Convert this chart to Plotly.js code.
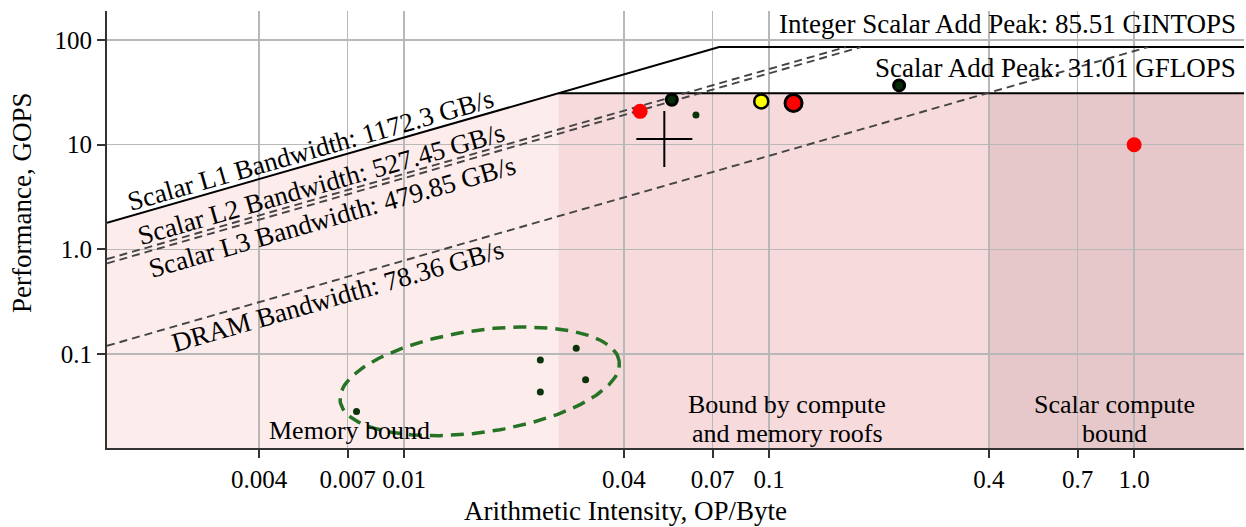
<!DOCTYPE html>
<html><head><meta charset="utf-8">
<script src="https://cdn.plot.ly/plotly-3.0.1.min.js"></script>
<style>html,body{margin:0;padding:0;background:#fff}#chart{width:1246px;height:527px}</style>
</head><body><div id="chart"></div>
<script>
// ---- data ----
const xTickVals = [0.004, 0.007, 0.01, 0.04, 0.07, 0.1, 0.4, 0.7, 1.0];
const xTickText = ['0.004', '0.007', '0.01', '0.04', '0.07', '0.1', '0.4', '0.7', '1.0'];
const yTickVals = [0.1, 1, 10, 100];
const yTickText = ['0.1', '1.0', '10', '100'];

const roofNames = ['Scalar L1 Bandwidth', 'Scalar L2 Bandwidth', 'Scalar L3 Bandwidth', 'DRAM Bandwidth'];
const roofBandwidths = [1172.3, 527.45, 479.85, 78.36];
const peakNames = ['Integer Scalar Add Peak', 'Scalar Add Peak'];
const peakValues = [85.51, 31.01];
const peakUnits = ['GINTOPS', 'GFLOPS'];

const greenAI = [0.0074, 0.0236, 0.0236, 0.0296, 0.0314, 0.063];
const greenPerf = [0.0284, 0.0877, 0.0434, 0.114, 0.0569, 19.2];
const outlinedAI = [0.0541, 0.227];
const outlinedPerf = [26.9, 36.8];
const redAI = [0.0443, 1.0];
const redPerf = [20.8, 10.0];
const yellowAI = [0.0951];
const yellowPerf = [25.9];
const redOutlinedAI = [0.1166];
const redOutlinedPerf = [25.0];
const crossAI = [0.0516];
const crossPerf = [11.3];

const regionLabels = ['Memory bound', 'Bound by compute<br>and memory roofs', 'Scalar compute<br>bound'];
const computeBoundAI = 0.4;

// ---- layout constants ----
const W = 1246, H = 527;
const M = {l: 107, r: 2, t: 11, b: 79};
const xRange = [0.001533, 2.0];
const yRange = [0.0127, 189];
const lg = Math.log10;
const pxPerDecX = (W - M.l - M.r) / (lg(xRange[1]) - lg(xRange[0]));
const pxPerDecY = (H - M.t - M.b) / (lg(yRange[1]) - lg(yRange[0]));

const FONT = 'Liberation Serif, Times New Roman, serif';
const xmin = xRange[0], xmax = xRange[1];
const l1 = roofBandwidths[0];
const intPeak = peakValues[0], fpPeak = peakValues[1];
const ridge = fpPeak / l1;

const traces = [];
// L1 roof with integer peak
traces.push({x: [xmin, intPeak / l1, xmax], y: [l1 * xmin, intPeak, intPeak], mode: 'lines',
  line: {color: '#000', width: 2}, hoverinfo: 'skip', showlegend: false});
// scalar add peak
traces.push({x: [ridge, xmax], y: [fpPeak, fpPeak], mode: 'lines',
  line: {color: '#000', width: 2}, hoverinfo: 'skip', showlegend: false});
// other bandwidth roofs (dashed)
for (let i = 1; i < roofBandwidths.length; i++) {
  const bw = roofBandwidths[i];
  traces.push({x: [xmin, intPeak / bw], y: [bw * xmin, intPeak], mode: 'lines',
    line: {color: '#444', width: 1.9, dash: '8px,5px'}, hoverinfo: 'skip', showlegend: false});
}

// ellipse around memory-bound kernels (center in data units, semi-axes in px, tilt in deg)
const ell = {cx: 0.0161, cy: 0.055, a: 141, b: 51, tilt: 8.2};
const ex = [], ey = [];
const th = ell.tilt * Math.PI / 180;
for (let k = 0; k <= 200; k++) {
  const t = 2 * Math.PI * k / 200;
  const dx = ell.a * Math.cos(th) * Math.cos(t) - ell.b * Math.sin(th) * Math.sin(t);
  const dy = ell.a * Math.sin(th) * Math.cos(t) + ell.b * Math.cos(th) * Math.sin(t);
  ex.push(Math.pow(10, lg(ell.cx) + dx / pxPerDecX));
  ey.push(Math.pow(10, lg(ell.cy) + dy / pxPerDecY));
}
traces.push({x: ex, y: ey, mode: 'lines', line: {color: '#267326', width: 3.5, dash: '13px,8px'},
  hoverinfo: 'skip', showlegend: false});

// kernel points
traces.push({x: greenAI, y: greenPerf, mode: 'markers', marker: {color: '#0a330a', size: 7}, showlegend: false});
traces.push({x: outlinedAI, y: outlinedPerf, mode: 'markers',
  marker: {color: '#072b07', size: 11, line: {color: '#000', width: 3}}, showlegend: false});
traces.push({x: redAI, y: redPerf, mode: 'markers', marker: {color: '#ff0000', size: 15}, showlegend: false});
traces.push({x: yellowAI, y: yellowPerf, mode: 'markers',
  marker: {color: '#ffff00', size: 14, line: {color: '#000', width: 2.5}}, showlegend: false});
traces.push({x: redOutlinedAI, y: redOutlinedPerf, mode: 'markers',
  marker: {color: '#ff0000', size: 17, line: {color: '#000', width: 3}}, showlegend: false});
traces.push({x: crossAI, y: crossPerf, mode: 'markers',
  marker: {symbol: 'cross-thin', size: 40, color: '#000', line: {color: '#000', width: 2}}, showlegend: false});

// shaded regions
const shapes = [
  {type: 'path', xref: 'x', yref: 'y', layer: 'below', line: {width: 0}, fillcolor: '#fdecec',
   path: `M${xmin},${yRange[0]} L${xmin},${l1 * xmin} L${ridge},${fpPeak} L${ridge},${yRange[0]} Z`},
  {type: 'rect', xref: 'x', yref: 'y', layer: 'below', line: {width: 0}, fillcolor: '#f6dadc',
   x0: ridge, x1: computeBoundAI, y0: yRange[0], y1: fpPeak},
  {type: 'rect', xref: 'x', yref: 'y', layer: 'below', line: {width: 0}, fillcolor: '#e6c8ca',
   x0: computeBoundAI, x1: xmax, y0: yRange[0], y1: fpPeak}
];

// annotations
const tf = {family: FONT, size: 27, color: '#000'};
const rf = {family: FONT, size: 26, color: '#000'};
const slopeAngle = -Math.atan(pxPerDecY / pxPerDecX) * 180 / Math.PI;
const roofLabelAI = [0.00555, 0.00593, 0.00635, 0.00659];
const roofLabelShift = [14, 14, -18, -17];
const annotations = [];
roofNames.forEach((n, i) => {
  const ai = roofLabelAI[i];
  annotations.push({x: lg(ai), y: lg(roofBandwidths[i] * ai), xref: 'x', yref: 'y',
    text: n + ': ' + roofBandwidths[i] + ' GB/s', showarrow: false, textangle: slopeAngle,
    xanchor: 'center', yanchor: 'middle', yshift: roofLabelShift[i], font: tf});
});
const peakShift = [23, 25];
peakNames.forEach((n, i) => {
  annotations.push({x: 0.9945, y: lg(peakValues[i]), xref: 'paper', yref: 'y',
    text: n + ': ' + peakValues[i].toFixed(2) + ' ' + peakUnits[i], showarrow: false,
    xanchor: 'right', yanchor: 'middle', yshift: peakShift[i], font: tf});
});
const regionX = [0.0071, 0.112, 0.881];
regionX.forEach((rx, i) => {
  const lines = regionLabels[i].split('<br>');
  const base = lines.length > 1 ? 15 : 18;
  lines.forEach((ln, j) => {
    annotations.push({x: lg(rx), y: 0, yref: 'paper', xref: 'x', text: ln, showarrow: false,
      xanchor: 'center', yanchor: 'middle', yshift: base + 29 * (lines.length - 1 - j), font: rf});
  });
});
// axis titles
annotations.push({x: (625 - M.l) / (W - M.l - M.r), y: -(511 - (H - M.b)) / (H - M.t - M.b), xref: 'paper', yref: 'paper',
  text: 'Arithmetic Intensity, OP/Byte', showarrow: false, xanchor: 'center', yanchor: 'middle', font: tf});
annotations.push({x: -(M.l - 22) / (W - M.l - M.r), y: (H - M.b - 203) / (H - M.t - M.b), xref: 'paper', yref: 'paper',
  text: 'Performance, GOPS', showarrow: false, textangle: -90, xanchor: 'center', yanchor: 'middle', font: tf});

const axisCommon = {type: 'log', showgrid: true, gridcolor: '#b8b8b8', gridwidth: 1.5,
  showline: true, linecolor: '#333', linewidth: 2, ticks: 'outside', ticklen: 8, tickwidth: 2, tickcolor: '#333',
  zeroline: false, tickfont: {family: FONT, size: 25, color: '#000'}, mirror: false};

const layout = {
  width: W, height: H, margin: M, paper_bgcolor: '#fff', plot_bgcolor: '#fff',
  showlegend: false,
  xaxis: Object.assign({}, axisCommon, {range: [lg(xRange[0]), lg(xRange[1])], tickmode: 'array',
    tickvals: xTickVals, ticktext: xTickText}),
  yaxis: Object.assign({}, axisCommon, {range: [lg(yRange[0]), lg(yRange[1])], tickmode: 'array',
    tickvals: yTickVals, ticktext: yTickText}),
  shapes: shapes, annotations: annotations
};

Plotly.newPlot('chart', traces, layout, {displayModeBar: false, staticPlot: true});
</script>
</body></html>
